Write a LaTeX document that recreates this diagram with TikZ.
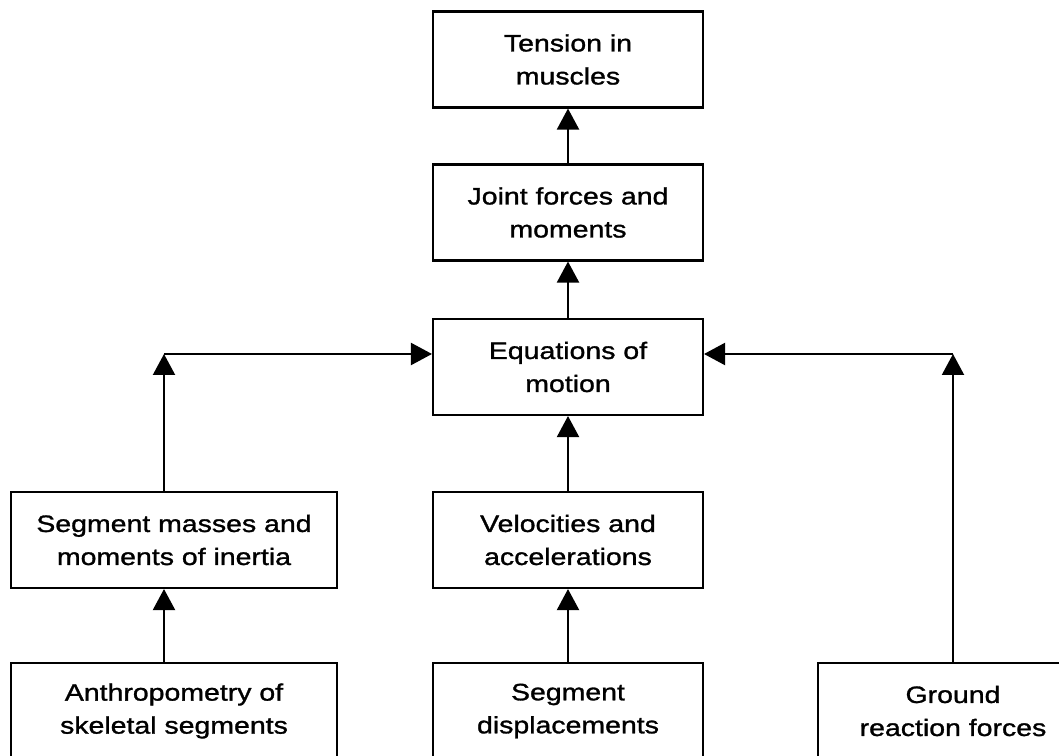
\documentclass[tikz,border=0pt]{standalone}
\usepackage{fontspec}
\setmainfont{Liberation Sans}[FakeStretch=1.2, FakeBold=1.2]
\usetikzlibrary{arrows.meta, positioning, calc}
\begin{document}
\begin{tikzpicture}[x=0.02cm, y=-0.02cm,
        box/.style={draw, line width=1.2pt, minimum width=5.4cm, minimum height=1.92cm,
            align=center, inner sep=2pt, font=\fontsize{13.5}{18.8}\selectfont},
        wide/.style={box, minimum width=6.52cm},
        arr/.style={draw, line width=1.2pt, -{Triangle[length=0.42cm, width=0.44cm]}}
    ]
    \useasboundingbox (0,0) rectangle (1059,756);
    % middle column
    \node[box] (tension) at (568,59.5) {Tension in\\muscles};
    \node[box] (joint) at (568,212.5) {Joint forces and\\moments};
    \node[box] (eqn) at (568,367) {Equations of\\motion};
    \node[box] (vel) at (568,540) {Velocities and\\accelerations};
    \node[box] (disp) at (568,711) {Segment\\displacements};
    % side columns
    \node[wide] (masses) at (174,540) {Segment masses and\\moments of inertia};
    \node[wide] (anthro) at (174,711) {Anthropometry of\\skeletal segments};
    \node[box] (ground) at (953,711) {Ground\\reaction forces};
    \coordinate (cl) at (164,354);
    \coordinate (cr) at (953,354);
    % connectors
    \draw[arr] (joint) -- (tension);
    \draw[arr] (eqn) -- (joint);
    \draw[arr] (vel) -- (eqn);
    \draw[arr] (disp) -- (vel);
    \draw[arr] (anthro.north -| cl) -- (masses.south -| cl);
    \draw[arr] (masses.north -| cl) -- (cl);
    \draw[arr] (cl) -- (cl -| eqn.west);
    \draw[arr] (ground) -- (cr);
    \draw[arr] (cr) -- (cr -| eqn.east);
\end{tikzpicture}
\end{document}
